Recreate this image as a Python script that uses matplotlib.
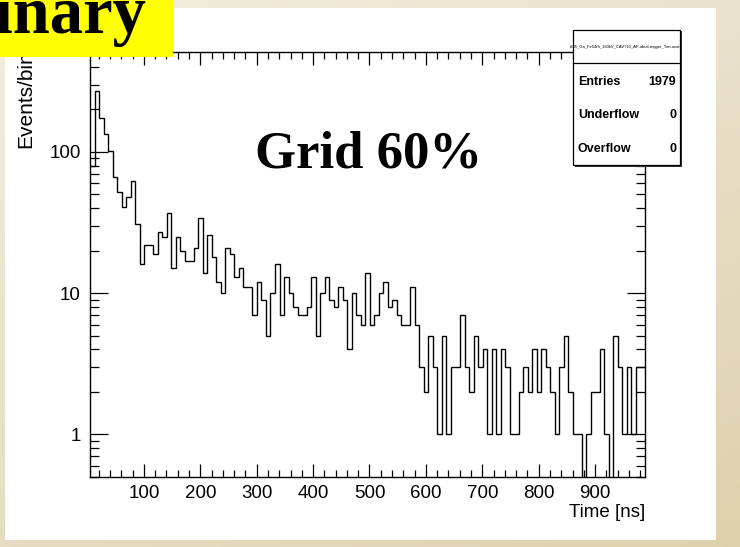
import numpy as np
import matplotlib
matplotlib.use("Agg")
import matplotlib.pyplot as plt
from matplotlib.patches import Rectangle
from matplotlib.ticker import FixedLocator, MultipleLocator, LogLocator, NullFormatter

plt.rcParams['font.family'] = ['Liberation Sans', 'DejaVu Sans']

# histogram contents, 8 ns bins
counts = [79, 271, 175, 134, 102, 67, 52, 41, 48, 62,
          31, 16, 22, 22, 19, 27, 25, 37, 15, 25,
          20, 17, 17, 21, 34, 14, 26, 18, 12, 10,
          21, 19, 13, 15, 11, 11, 7, 12, 9, 5,
          10, 16, 7, 13, 10, 8, 7, 7, 8, 13,
          5, 10, 13, 9, 8, 11, 9, 4, 10, 7,
          6, 14, 6, 7, 10, 12, 8, 9, 7, 6,
          6, 11, 6, 3, 2, 5, 3, 1, 5, 1,
          3, 3, 7, 3, 2, 5, 3, 4, 1, 4,
          1, 4, 3, 1, 1, 2, 3, 2, 4, 2,
          4, 3, 2, 1, 3, 5, 2, 1, 1, 0,
          1, 2, 2, 4, 1, 0, 5, 3, 1, 3,
          1, 3, 3]
bin_lo = 4.5
bin_width = 8.0
edges = bin_lo + bin_width * np.arange(len(counts) + 1)

xticks = [100, 200, 300, 400, 500, 600, 700, 800, 900]
yticks = [1, 10, 100]
ytick_labels = ["1", "10", "100"]

stats_title = "t385_Ga_Fe54rh_160kV_CAV710_AP-ideal-trigger_Tim-ocore"
stats_names = ["Entries", "Underflow", "Overflow"]
stats_values = ["1979", "0", "0"]

W, H = 740, 547
fig = plt.figure(figsize=(W / 100, H / 100), dpi=100)

def fx(px):
    return px / W

def fy(py):
    return 1 - py / H

# beige slide background
bg = fig.add_axes([0, 0, 1, 1], zorder=-10)
gx, gy = np.meshgrid(np.linspace(0, 1, 200), np.linspace(0, 1, 200))
t = (0.4 * gx + 0.6 * gy)[..., None]
c0 = np.array([0.95, 0.93, 0.875])
c1 = np.array([0.87, 0.82, 0.68])
bg.imshow(c0 * (1 - t) + c1 * t, extent=[0, 1, 0, 1], aspect="auto", origin="upper")
bg.axis("off")

fig.add_artist(Rectangle((fx(5), fy(540)), fx(716 - 5), (540 - 8) / H,
                         transform=fig.transFigure, facecolor="white",
                         edgecolor="none", zorder=-5))

ax = fig.add_axes([fx(90), fy(477), fx(555), 425 / H])
ax.stairs(counts, edges, color="black", lw=1.0, baseline=None)
ax.set_yscale("log")
ax.set_xlim(edges[0], edges[-1])
ax.set_ylim(0.5, 510)

ax.xaxis.set_major_locator(FixedLocator(xticks))
ax.xaxis.set_minor_locator(MultipleLocator(20))
ax.yaxis.set_major_locator(FixedLocator(yticks))
ax.set_yticklabels(ytick_labels)
ax.yaxis.set_minor_locator(LogLocator(base=10, subs=np.arange(2, 10)))
ax.yaxis.set_minor_formatter(NullFormatter())

ax.tick_params(which="both", direction="in", top=True, right=True,
               labelsize=13.5, width=0.9)
ax.tick_params(axis="x", which="major", length=9.4, pad=5.5)
ax.tick_params(axis="x", which="minor", length=5)
ax.tick_params(axis="y", which="major", length=13, pad=6.5)
ax.tick_params(axis="y", which="minor", length=6.5)
for s in ax.spines.values():
    s.set_linewidth(1.0)

ax.set_xlabel("Time [ns]", fontsize=13.5, loc="right")
ax.xaxis.set_label_coords(1.0, -0.063)
fig.text(fx(26), fy(50), "Events/bin", rotation=90, ha="center", va="top",
         fontsize=15)

ax.text(0.297, 0.729, "Grid 60%", transform=ax.transAxes, family="Liberation Serif",
        fontweight="bold", fontsize=38, va="baseline", ha="left")

# stats box
bx0, bx1, by0, by1 = 573, 680, 30, 165
fig.add_artist(Rectangle((fx(bx0 + 1.5), fy(by1 + 1.5)), fx(bx1 - bx0), (by1 - by0) / H,
                         transform=fig.transFigure, facecolor="#333333",
                         edgecolor="none", zorder=5))
fig.add_artist(Rectangle((fx(bx0), fy(by1)), fx(bx1 - bx0), (by1 - by0) / H,
                         transform=fig.transFigure, facecolor="white",
                         edgecolor="black", lw=0.9, zorder=6))
fig.add_artist(plt.Line2D([fx(bx0), fx(bx1)], [fy(63), fy(63)], color="black",
                          lw=0.9, zorder=7))
fig.text(fx((bx0 + bx1) / 2), fy(47), stats_title, fontsize=3.0, ha="center",
         va="center", zorder=8)
for i, (name, val) in enumerate(zip(stats_names, stats_values)):
    yy = fy(82 + 33.5 * i)
    fig.text(fx(578), yy, name, fontsize=9, fontweight="bold", ha="left",
             va="center", zorder=8)
    fig.text(fx(676), yy, val, fontsize=9, fontweight="bold", ha="right",
             va="center", zorder=8)

# yellow "Preliminary" banner, cut by the slide edge as in the original
fig.add_artist(Rectangle((0, fy(57)), fx(173), 57 / H, transform=fig.transFigure,
                         facecolor="#ffff00", edgecolor="none", zorder=9))
fig.text(fx(147), fy(33), "Preliminary", family="Liberation Serif",
         fontweight="bold", fontsize=48, ha="right", va="baseline", zorder=10)

fig.savefig("out.png", dpi=100)
